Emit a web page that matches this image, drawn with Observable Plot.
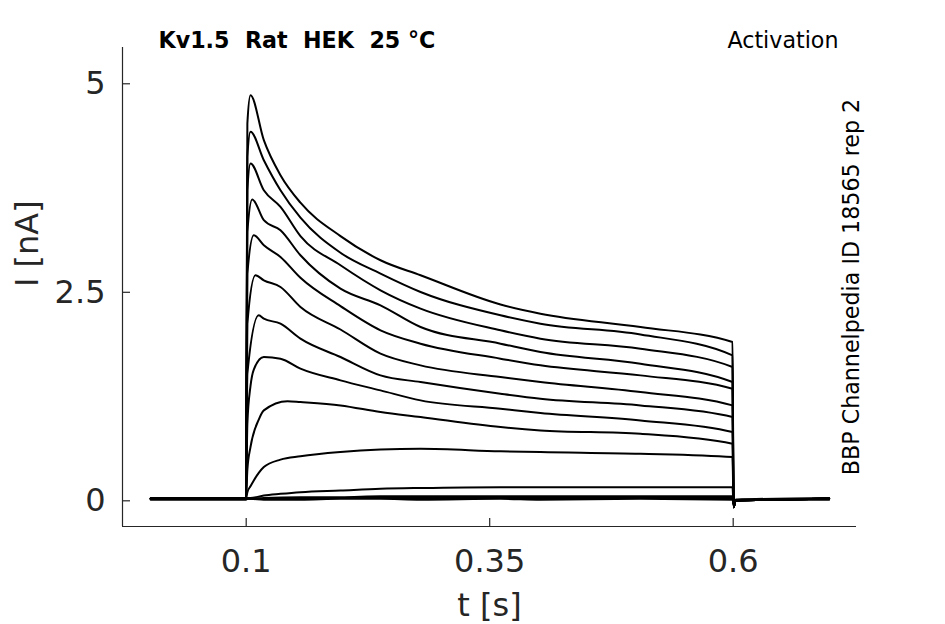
<!DOCTYPE html>
<html><head><meta charset="utf-8">
<script src="https://cdn.jsdelivr.net/npm/d3@7"></script>
<script src="https://cdn.jsdelivr.net/npm/@observablehq/plot@0.6"></script>
<style>
html,body{margin:0;padding:0;background:#fff;}
#chart{width:945px;height:624px;}
</style></head><body><div id="chart"></div>
<script>
const time = [0.002, 0.0998, 0.1012, 0.1044, 0.1062, 0.1078, 0.1095, 0.1129, 0.1181, 0.1352, 0.1424, 0.1557, 0.1968, 0.2379, 0.2790, 0.3611, 0.4021, 0.5048, 0.5993, 0.6004, 0.6025, 0.6985];
// currents (nA) for each sweep; null = not read at that time
const i1  = [0, 0, 4.50, 4.84, null, null, null, null, 4.30, 3.88, null, 3.55, 3.15, 2.86, 2.68, 2.33, 2.22, 2.06, 1.88, -0.10, -0.02, 0];
const i2  = [0, 0, 4.10, 4.40, null, null, null, null, 4.06, 3.70, null, 3.37, 2.95, 2.70, 2.48, 2.20, 2.10, 1.97, 1.72, -0.10, -0.02, 0];
const i3  = [0, 0, 3.70, 4.02, null, null, null, null, 3.70, 3.50, null, 3.15, 2.80, 2.50, 2.28, 2.02, 1.92, 1.80, 1.58, -0.10, -0.02, 0];
const i4  = [0, 0, 3.20, null, 3.59, null, null, null, 3.34, 3.22, null, 2.92, 2.52, 2.32, 2.06, 1.86, 1.76, 1.62, 1.40, -0.10, -0.02, 0];
const i5  = [0, 0, 2.70, null, null, 3.16, null, null, 3.04, 2.90, null, 2.65, 2.31, 2.02, 1.86, 1.68, 1.60, 1.48, 1.32, -0.10, -0.02, 0];
const i6  = [0, 0, 2.10, null, null, null, 2.68, null, 2.62, 2.54, null, 2.30, 2.03, 1.74, 1.60, 1.46, 1.40, 1.28, 1.12, -0.10, -0.02, 0];
const i7  = [0, 0, 1.50, null, null, null, null, 2.20, 2.16, 2.10, null, 1.92, 1.70, 1.48, 1.40, 1.26, 1.20, 1.12, 0.98, -0.10, -0.02, 0];
const i8  = [0, 0, 0.90, 1.35, null, 1.55, null, null, 1.70, 1.68, null, 1.56, 1.42, 1.30, 1.18, 1.08, 1.03, 0.94, 0.80, -0.10, -0.02, 0];
const i9  = [0, 0, 0.35, 0.62, null, null, null, 0.95, 1.06, null, 1.17, 1.16, 1.12, 1.04, 0.98, 0.86, 0.82, 0.78, 0.66, -0.10, -0.02, 0];
const i10 = [0, 0, 0.08, 0.15, null, 0.22, null, 0.31, 0.38, 0.47, null, 0.51, 0.56, 0.59, 0.60, 0.57, 0.56, 0.54, 0.50, -0.10, -0.02, 0];
const i11 = [0, 0, 0.01, 0.01, null, null, null, null, 0.04, 0.06, null, 0.08, 0.10, 0.12, 0.13, 0.14, 0.14, 0.14, 0.14, -0.08, -0.02, 0];
const i12 = [0, 0, 0, 0, null, null, null, null, 0.01, null, null, 0.02, 0.02, 0.03, 0.03, 0.03, 0.03, 0.03, 0.03, -0.08, -0.02, 0];
const i13 = [0.01, 0.01, 0, 0, null, null, null, null, 0, null, null, 0.01, 0.01, 0.01, 0.01, 0.01, 0.01, 0.01, 0.01, -0.06, -0.01, 0.01];
const i14 = [-0.01, -0.01, 0, 0, null, null, null, null, -0.01, null, null, -0.01, 0, 0, -0.01, 0, -0.01, 0, -0.01, -0.06, -0.01, -0.01];
const sweeps = [i1, i2, i3, i4, i5, i6, i7, i8, i9, i10, i11, i12, i13, i14];

const xTicks = [0.1, 0.35, 0.6];
const yTicks = [0, 2.5, 5];
const xDomain = [-0.027, 0.7266];
const yDomain = [-0.332, 5.411];

const titleText = ["Kv1.5\u00a0 Rat\u00a0 HEK\u00a0 25 °C"];
const protocolText = ["Activation"];
const sourceText = ["BBP Channelpedia ID 18565 rep 2"];
const xLabel = ["t [s]"];
const yLabel = ["I [nA]"];

const rows = [];
sweeps.forEach((s, k) => s.forEach((v, j) => { if (v !== null) rows.push({t: time[j], I: v, sweep: k}); }));

const W = 945, H = 624, mL = 122, mR = 89, mT = 47, mB = 98;
const axisColor = "#262626";
const tickLen = 8;

const chart = Plot.plot({
  width: W, height: H,
  marginLeft: mL, marginRight: mR, marginTop: mT, marginBottom: mB,
  style: {fontFamily: "DejaVu Sans", background: "white", color: axisColor, overflow: "visible"},
  x: {domain: xDomain},
  y: {domain: yDomain},
  marks: [
    Plot.ruleX([xDomain[0]], {stroke: axisColor, strokeWidth: 1.2}),
    Plot.ruleY([yDomain[0]], {stroke: axisColor, strokeWidth: 1.2}),
    Plot.axisX(xTicks, {tickSize: tickLen, tickPadding: 23 - tickLen, fontSize: 32, label: null, tickFormat: d => String(d), strokeWidth: 1.2}),
    Plot.axisY(yTicks, {tickSize: tickLen, tickPadding: 17 - tickLen, dy: 2, fontSize: 32, label: null, tickFormat: d => String(d), strokeWidth: 1.2}),
    Plot.line(rows, {x: "t", y: "I", z: "sweep", stroke: "black", strokeWidth: 2, strokeLinejoin: "round", curve: "monotone-x"}),
    Plot.text(xLabel, {text: d => d, frameAnchor: "bottom", dy: 89, lineAnchor: "bottom", fontSize: 32, fill: axisColor}),
    Plot.text(yLabel, {text: d => d, frameAnchor: "left", dx: -85, rotate: -90, lineAnchor: "bottom", fontSize: 32, fill: axisColor}),
    Plot.text(titleText, {text: d => d, frameAnchor: "top-left", dx: 36, dy: 0, textAnchor: "start", lineAnchor: "bottom", fontSize: 22.2, fontWeight: "bold", fill: "black"}),
    Plot.text(protocolText, {text: d => d, frameAnchor: "top-right", dx: -18, dy: 0, textAnchor: "end", lineAnchor: "bottom", fontSize: 22.2, fill: "black"}),
    Plot.text(sourceText, {text: d => d, frameAnchor: "right", dx: 2, rotate: -90, textAnchor: "middle", lineAnchor: "bottom", fontSize: 22.2, fill: "black"})
  ]
});
// turn the axis ticks inward, as in the reference
const svg = d3.select(chart.tagName.toLowerCase() === "svg" ? chart : chart.querySelector("svg"));
svg.selectAll('g[aria-label="x-axis tick"] path').attr("d", `M0,0L0,${-tickLen}`);
svg.selectAll('g[aria-label="y-axis tick"] path').attr("d", `M0,0L${tickLen},0`);
document.getElementById("chart").appendChild(chart);
</script>
</body></html>
